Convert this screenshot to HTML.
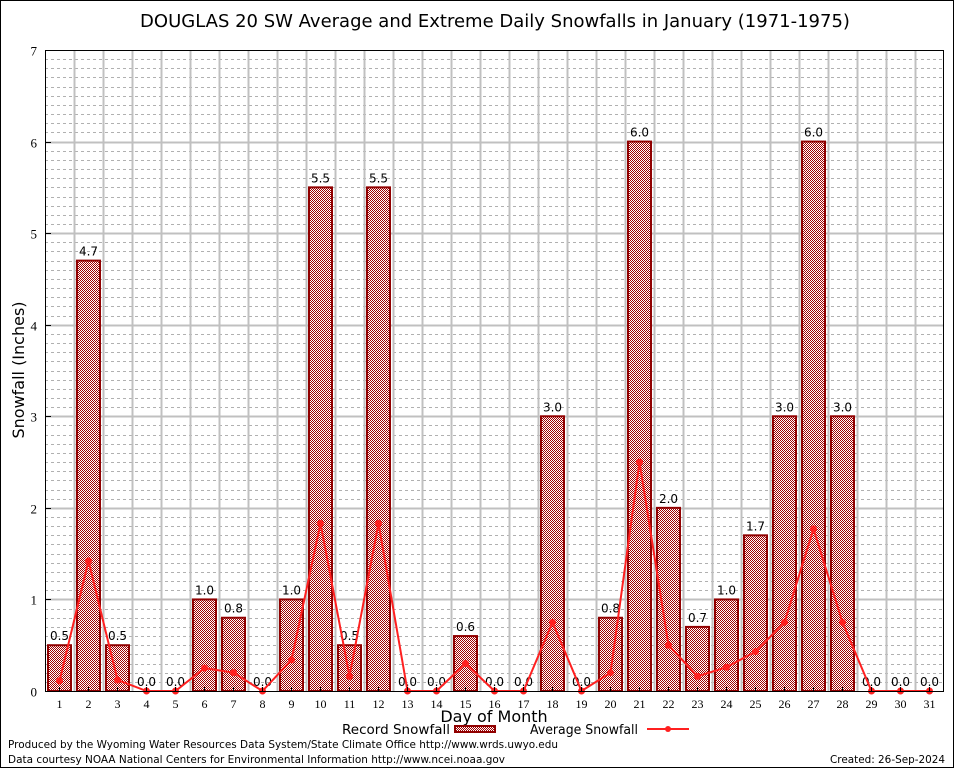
<!DOCTYPE html>
<html><head><meta charset="utf-8"><style>
html,body{margin:0;padding:0;background:#fff;}
svg{display:block;font-family:"DejaVu Sans","Liberation Sans",sans-serif;}
</style></head><body>
<svg id="chart" width="954" height="768" viewBox="0 0 954 768" xmlns="http://www.w3.org/2000/svg">
<defs>
<pattern id="chk" width="2" height="2" patternUnits="userSpaceOnUse">
<rect width="2" height="2" fill="#fff"/><rect width="1" height="1" fill="#a00000"/><rect x="1" y="1" width="1" height="1" fill="#a00000"/>
</pattern>
</defs>
<rect x="0.5" y="0.5" width="953" height="767" fill="#fff" stroke="#000"/>
<text x="495" y="27" font-size="18" text-anchor="middle">DOUGLAS 20 SW Average and Extreme Daily Snowfalls in January (1971-1975)</text>
<g id="grid"></g>
<g id="bars"></g>
<g id="line"></g>
<g id="axes"></g>
<text x="24" y="370" font-size="16" text-anchor="middle" transform="rotate(-90 24 370)">Snowfall (Inches)</text>
<text x="494" y="722" font-size="16" text-anchor="middle">Day of Month</text>
<g>
<text x="342" y="734" font-size="13" textLength="108" lengthAdjust="spacingAndGlyphs">Record Snowfall</text>
<rect x="455" y="726" width="40" height="6" fill="url(#chk)" stroke="#900000" stroke-width="2"/>
<text x="530" y="734" font-size="13" textLength="108" lengthAdjust="spacingAndGlyphs">Average Snowfall</text>
<line x1="647" y1="729" x2="689" y2="729" stroke="#ff2020" stroke-width="2"/>
<circle cx="668" cy="729" r="3" fill="#ff2020"/>
</g>
<text x="8" y="748" font-size="11" textLength="550" lengthAdjust="spacingAndGlyphs">Produced by the Wyoming Water Resources Data System/State Climate Office http://www.wrds.uwyo.edu</text>
<text x="8" y="763" font-size="11" textLength="497" lengthAdjust="spacingAndGlyphs">Data courtesy NOAA National Centers for Environmental Information http://www.ncei.noaa.gov</text>
<text x="945" y="763" font-size="11" text-anchor="end" textLength="115" lengthAdjust="spacingAndGlyphs">Created: 26-Sep-2024</text>
</svg>
<script>
const days = [1,2,3,4,5,6,7,8,9,10,11,12,13,14,15,16,17,18,19,20,21,22,23,24,25,26,27,28,29,30,31];
const recordSnow = [0.5,4.7,0.5,0,0,1.0,0.8,0,1.0,5.5,0.5,5.5,0,0,0.6,0,0,3.0,0,0.8,6.0,2.0,0.7,1.0,1.7,3.0,6.0,3.0,0,0,0];
const avgSnow = [0.11,1.42,0.12,0,0,0.25,0.2,0,0.34,1.83,0.16,1.83,0,0,0.3,0,0,0.75,0,0.2,2.5,0.5,0.16,0.26,0.43,0.75,1.77,0.75,0,0,0];
const yTicks = [0,1,2,3,4,5,6,7];
const NS="http://www.w3.org/2000/svg";
const L=45,R=944,T=50,B=691,YMAX=7;
const dw=(R-L)/days.length;
const x=d=>L+(d-0.5)*dw;
const y=v=>B-(v/YMAX)*(B-T);
function mk(tag,attrs,parent){const e=document.createElementNS(NS,tag);for(const k in attrs)e.setAttribute(k,attrs[k]);parent.appendChild(e);return e;}
const grid=document.getElementById('grid'),bars=document.getElementById('bars'),line=document.getElementById('line'),axes=document.getElementById('axes');
for(let i=1;i<YMAX*10;i++){if(i%10===0)continue;const yy=Math.round(y(i/10))+0.5;
const g=mk('line',{x1:L,x2:R,y1:yy,y2:yy,stroke:'#b0b0b0','stroke-dasharray':'3,3','stroke-width':1},grid);

}
for(let i=1;i<days.length;i++){const xx=Math.round(L+i*dw)+0.5;
const g=mk('line',{x1:xx,x2:xx,y1:T,y2:B,stroke:'#c0c0c0','stroke-width':2},grid);

}
yTicks.forEach(v=>{const yy=Math.round(y(v))+0.5;
if(v>0&&v<YMAX){const g=mk('line',{x1:L,x2:R,y1:yy,y2:yy,stroke:'#c0c0c0','stroke-width':2},grid);

}
const t=mk('text',{x:L-8,y:yy+5,'font-size':13,'text-anchor':'end','font-family':'Liberation Serif,serif'},axes);t.textContent=v;


const tk=mk('line',{x1:L,x2:L+6,y1:yy,y2:yy,stroke:'#000'},axes);

});
const fr=mk('rect',{x:L+0.5,y:T+0.5,width:R-L-1,height:B-T,fill:'none',stroke:'#000','stroke-width':1},axes);


days.forEach((d,i)=>{const v=recordSnow[i];const cx=x(d);
if(v>0){const r=mk('rect',{x:cx-11.5,y:y(v),width:23,height:B-y(v),fill:'url(#chk)',stroke:'#900000','stroke-width':2},bars);

}
const t=mk('text',{x:cx,y:y(v)-5,'font-size':12,'text-anchor':'middle'},bars);t.textContent=v.toFixed(1);


const xl=mk('text',{x:cx,y:B+17,'font-size':12,'text-anchor':'middle','font-family':'Liberation Serif,serif'},axes);xl.textContent=d;


const tk=mk('line',{x1:cx,x2:cx,y1:B-4,y2:B,stroke:'#000'},axes);

});
const pts=days.map((d,i)=>x(d)+','+y(avgSnow[i])).join(' ');
const pl=mk('polyline',{points:pts,fill:'none',stroke:'#ff2020','stroke-width':2},line);


days.forEach((d,i)=>{const c=mk('circle',{cx:x(d),cy:y(avgSnow[i]),r:3.5,fill:'#ff2020'},line);

});
</script>
</body></html>
